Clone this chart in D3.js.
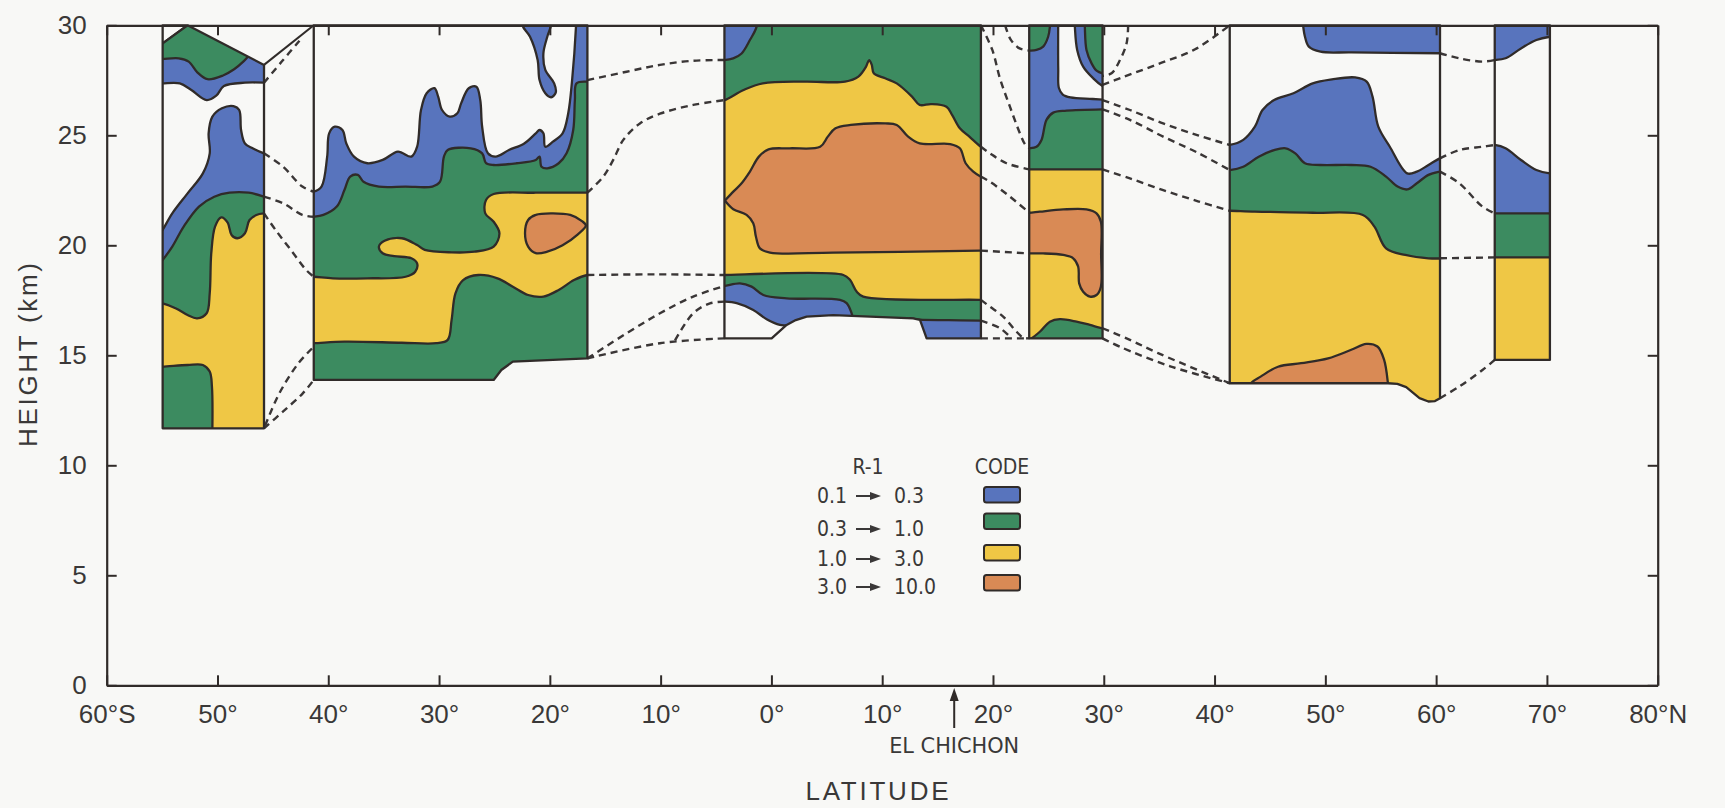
<!DOCTYPE html>
<html>
<head>
<meta charset="utf-8">
<script src="https://cdn.jsdelivr.net/npm/d3@7"></script>
<style>
  html, body { margin: 0; padding: 0; background: #f8f8f6; }
  svg { display: block; }
</style>
</head>
<body>
<svg id="chart" width="1725" height="808"></svg>
<script>
// ---------------------------------------------------------------
// Data: latitude (deg, south negative) and height (km)
// ---------------------------------------------------------------
const latTicks = [-60, -50, -40, -30, -20, -10, 0, 10, 20, 30, 40, 50, 60, 70, 80];
const heightTicks = [0, 5, 10, 15, 20, 25, 30];
const codeRanges = [["0.1", "0.3"], ["0.3", "1.0"], ["1.0", "3.0"], ["3.0", "10.0"]];
const ventLat = 16.5;   // El Chichon

// Observation strips: outline polygons
const outline55S = [[-54.95,30],[-52.7,30],[-45.8,28.2],[-45.8,11.68],[-54.95,11.68]];
const outline30S = [[-41.31,30],[-16.61,30],[-16.61,14.86],[-23.34,14.71],[-24.38,14.33],[-25.07,13.88],[-41.31,13.88]];
const outline7N  = [[-4.24,30],[18.91,30],[18.91,15.77],[14.01,15.77],[13.41,16.61],[12.8,16.68],[5.58,16.83],[3.18,16.76],[2.2,16.6],[1.37,16.38],[0.02,15.77],[-4.24,15.77]];
const outline26N = [[23.27,30],[29.89,30],[29.89,15.77],[23.27,15.77]];
const outline50N = [[41.37,30],[60.35,30],[60.35,13.05],[59.9,12.92],[59.3,12.9],[58.5,13.05],[57.9,13.3],[57.3,13.55],[56.5,13.7],[55.65,13.73],[41.37,13.73]];
const outline68N = [[65.29,30],[70.27,30],[70.27,14.79],[65.29,14.79]];

// Contoured R-1 regions per strip (code 0 = below 0.1, 1..4 = legend classes).
// Each region is a list of runs: smooth curves joined by straight segments.
const regions55S = [
  {code:1, runs:[[[-55.5,28.98],[-52.7,30.0]],[[-52.4,30.6]],[[-45,30.6]],[[-45,27.39]],
    [[-45.8,27.39],[-47.52,27.39],[-49.42,27.24],[-50.11,26.8],[-50.98,26.6],[-52.36,27.06],[-53.4,27.36],[-54.95,27.36],[-55.5,27.36]]]},
  {code:2, runs:[[[-55.5,28.98],[-52.7,30.0]],[[-52.4,30.6]],[[-46.8,30.6]],[[-46.9,28.9]],
    [[-47.2,28.6],[-47.6,28.38],[-48.5,28.0],[-49.5,27.72],[-50.9,27.55],[-51.8,27.85],[-52.6,28.35],[-53.5,28.5],[-54.95,28.47],[-55.5,28.47]]]},
  {code:1, runs:[[[-55.5,20.3],[-54.95,20.7],[-54.08,21.45],[-52.7,22.36],[-51.32,23.27],[-50.7,24.18],[-50.8,25.09],[-50.46,25.85],[-49.6,26.23],[-48.56,26.33],[-48.04,26.15],[-47.87,25.24],[-47.52,24.63],[-46.83,24.41],[-45.8,24.18],[-45.2,24.1]],[[-45.2,11]],[[-55.5,11]]]},
  {code:2, runs:[[[-55.5,19.0],[-54.95,19.33],[-54.08,19.94],[-53.05,20.85],[-51.67,21.76],[-50.29,22.21],[-48.91,22.39],[-47.18,22.39],[-45.8,22.21],[-45.2,22.1]],[[-45.2,11]],[[-55.5,11]]]},
  {code:3, runs:[[[-55.5,17.4],[-54.95,17.36],[-53.74,17.13],[-52.7,16.83],[-51.84,16.68],[-50.98,16.91],[-50.7,17.82],[-50.56,19.64],[-50.22,20.85],[-49.66,21.27],[-49.08,21.03],[-48.73,20.47],[-48.21,20.32],[-47.52,20.55],[-47.11,21.15],[-46.49,21.38],[-45.8,21.45],[-45.2,21.45]],[[-45.2,11]],[[-50.4,11]],
    [[-50.46,11.68],[-50.5,13.57],[-50.7,14.26],[-51.32,14.56],[-52.7,14.56],[-54.95,14.48],[-55.5,14.48]]]}
];

const regions30S = [
  {code:1, runs:[[[-42,22.44],[-41.31,22.44],[-40.61,22.67],[-40.1,24.03],[-39.92,25.09],[-39.41,25.39],[-38.72,25.24],[-38.37,24.63],[-37.68,24.03],[-36.47,23.73],[-35.09,23.88],[-33.71,24.26],[-32.5,24.03],[-31.98,24.48],[-31.63,26.15],[-31.12,26.91],[-30.42,27.14],[-30.08,26.76],[-29.73,26.15],[-29.04,25.85],[-28.35,26.0],[-28.01,26.45],[-27.32,27.14],[-26.63,27.21],[-26.28,26.6],[-26.11,25.39],[-25.59,24.18],[-24.9,24.03],[-23.69,24.33],[-22.31,24.63],[-21.27,25.09],[-20.93,25.24],[-20.58,25.09],[-20.41,24.48],[-19.72,24.71],[-18.85,25.09],[-18.34,26.0],[-17.99,27.51],[-17.64,29.94],[-17.6,30.6]],[[-16,30.6]],[[-16,13]],[[-42,13]]]},
  {code:1, runs:[[[-22.5,30.6],[-22.48,30.0],[-21.79,29.48],[-21.1,28.42],[-20.93,27.51],[-20.41,26.91],[-19.89,26.73],[-19.47,26.94],[-19.61,27.36],[-20.41,27.97],[-20.58,28.73],[-20.23,29.48],[-19.89,30.0],[-19.8,30.6]]]},
  {code:2, runs:[[[-42,21.3],[-41.31,21.3],[-40.44,21.38],[-39.23,21.76],[-38.54,22.51],[-38.02,23.12],[-37.33,23.2],[-36.82,22.89],[-35.43,22.67],[-33.02,22.67],[-30.6,22.67],[-29.91,22.89],[-29.56,24.03],[-29.22,24.33],[-27.14,24.41],[-26.11,24.18],[-25.76,23.73],[-25.07,23.65],[-23.0,23.73],[-21.27,23.88],[-20.93,24.03],[-20.75,23.57],[-20.23,23.5],[-19.2,23.73],[-18.49,24.18],[-17.89,25.24],[-17.74,26.6],[-17.59,27.36],[-16.61,27.44],[-16,27.44]],[[-16,13]],[[-42,13]]]},
  {code:3, runs:[[[-42,18.57],[-41.31,18.57],[-39.58,18.5],[-36.47,18.5],[-33.02,18.57],[-32.15,18.8],[-31.98,19.18],[-32.5,19.41],[-34.05,19.51],[-35.09,19.64],[-35.43,19.94],[-34.92,20.21],[-33.36,20.32],[-31.98,20.01],[-31.29,19.79],[-28.87,19.68],[-26.8,19.71],[-25.07,19.94],[-24.55,20.55],[-25.07,21.07],[-25.83,21.45],[-25.76,22.06],[-25.07,22.33],[-21.27,22.39],[-16.61,22.39],[-16,22.39]],
    [[-16,18.65],[-16.61,18.65],[-17.82,18.42],[-19.2,17.97],[-20.58,17.67],[-21.96,17.74],[-23.34,18.12],[-24.73,18.5],[-26.45,18.65],[-27.83,18.42],[-28.52,17.82],[-28.87,16.6],[-29.22,15.7],[-30.25,15.55],[-33.36,15.57],[-38.54,15.62],[-41.31,15.55],[-42,15.55]]]},
  {code:4, closed:true, runs:[[[-21.96,21.15],[-21.27,21.38],[-19.89,21.45],[-18.16,21.38],[-17.1,21.1],[-16.75,20.9],[-17.47,20.5],[-18.85,20.0],[-20.23,19.71],[-21.27,19.64],[-21.96,19.94],[-22.24,20.55]]]}
];

const regions7N = [
  {code:3, runs:[[[-4.8,26.6],[-4.24,26.6],[-2.51,27.06],[-0.78,27.36],[3.02,27.44],[6.64,27.44],[7.85,27.67],[8.54,28.12],[8.82,28.42],[9.06,28.2],[9.24,27.82],[10.27,27.59],[11.31,27.36],[12.69,26.76],[13.38,26.38],[14.42,26.42],[15.8,26.3],[16.32,25.92],[17.01,25.32],[17.87,24.94],[18.91,24.48],[19.5,24.3]],
    [[19.5,17.5],[18.82,17.52],[8.29,17.67],[7.69,17.9],[7.09,18.43],[6.49,18.65],[-4.28,18.65],[-4.8,18.65]]]},
  {code:4, runs:[[[-4.15,22.06],[-3.44,22.44],[-2.69,22.82],[-1.94,23.35],[-1.13,24.03],[-0.26,24.36],[1.64,24.41],[4.4,24.48],[5.09,24.94],[5.78,25.32],[7.16,25.47],[10.27,25.54],[11.31,25.47],[12.34,24.94],[13.38,24.63],[16.14,24.6],[17.01,24.41],[17.53,23.73],[18.22,23.35],[18.91,23.12],[19.5,23.0]],[[19.5,19.76]],
    [[18.82,19.76],[5.58,19.67],[-0.13,19.67],[-1.04,19.86],[-1.4,20.4],[-1.64,21.0],[-2.24,21.38],[-3.44,21.64],[-4.15,22.0]]]},
  {code:1, runs:[[[-1.3,30.6],[-1.34,29.94],[-1.94,29.33],[-2.69,28.72],[-3.45,28.5],[-4.29,28.42],[-4.8,28.42]],[[-4.8,30.6]]]},
  {code:1, runs:[[[-4.8,18.15],[-4.28,18.15],[-2.84,18.27],[-1.79,18.12],[-0.73,17.74],[1.37,17.59],[6.19,17.52],[6.79,17.37],[7.24,16.91],[7.5,16.4],[7.6,15.5]],[[-4.8,15.5]]]},
  {code:0, runs:[[[-4.8,17.44],[-4.28,17.44],[-3.14,17.37],[-1.64,17.06],[-0.43,16.64],[0.77,16.38],[1.37,16.36],[2.2,16.3]],[[2.2,15.5]],[[-4.8,15.5]]]},
  {code:1, runs:[[[12.5,16.69],[13.41,16.62],[16,16.6],[18.82,16.58],[19.5,16.58]],[[19.5,15.3]],[[12.5,15.3]]]}
];

const regions26N = [
  {code:1, runs:[[[30.5,26.18],[29.89,26.18],[26.64,26.12],[25.44,26.03],[24.83,25.7],[24.38,24.79],[23.93,24.48],[23.27,24.41],[22.7,24.41]],[[22.7,30.6]],[[30.5,30.6]]]},
  {code:0, runs:[[[25.89,30.6],[25.89,28.0],[25.95,27.15],[26.3,26.85],[27.0,26.72],[29.0,26.65],[30.5,26.6]],[[30.5,30.6]]]},
  {code:1, runs:[[[27.35,30.6],[27.39,29.94],[27.6,28.88],[28.14,28.12],[29.05,27.59],[29.89,27.24],[30.5,27.1]],[[30.5,30.6]]]},
  {code:2, runs:[[[28.25,30.6],[28.29,29.94],[28.44,28.88],[28.9,28.27],[29.35,27.94],[29.89,27.82],[30.5,27.8]],[[30.5,30.6]]]},
  {code:2, runs:[[[25.2,30.6],[25.14,29.94],[24.98,29.48],[24.53,29.03],[23.93,28.88],[23.27,28.85],[22.7,28.85]],[[22.7,30.6]]]},
  {code:3, runs:[[[22.7,23.45],[30.5,23.45]],[[30.5,16.2],[29.89,16.23],[28.75,16.38],[27.54,16.53],[26.04,16.64],[25.14,16.53],[24.23,16.07],[23.4,15.75],[22.7,15.6]]]},
  {code:4, runs:[[[22.7,21.48],[23.27,21.48],[24.23,21.53],[26.34,21.63],[28.44,21.63],[29.35,21.45],[29.74,21.07],[29.76,19.6],[29.74,18.12],[29.35,17.74],[28.75,17.67],[28.14,17.89],[27.78,18.27],[27.69,19.03],[27.24,19.41],[26.34,19.56],[24.53,19.63],[23.27,19.63],[22.7,19.63]]]}
];

const regions50N = [
  {code:1, runs:[[[47.9,30.6],[47.99,30.0],[48.16,29.48],[48.51,29.03],[49.56,28.8],[52.34,28.77],[60.35,28.73],[61,28.73]],[[61,30.6]]]},
  {code:1, runs:[[[40.8,24.56],[41.37,24.56],[42.59,24.79],[43.64,25.39],[44.33,26.15],[45.38,26.6],[47.12,26.91],[48.86,27.36],[50.6,27.54],[52.69,27.63],[53.73,27.44],[54.26,26.76],[54.78,25.39],[55.82,24.48],[57.39,23.27],[58.26,23.35],[59.31,23.65],[60.35,23.95],[61,24.0]],[[61,12]],[[40.8,12]]]},
  {code:2, runs:[[[40.8,23.42],[41.37,23.42],[42.59,23.57],[43.99,24.03],[45.38,24.33],[46.42,24.41],[47.29,24.18],[48.16,23.73],[49.56,23.65],[52.34,23.65],[54.08,23.57],[55.48,23.12],[56.52,22.67],[57.39,22.54],[58.26,22.82],[59.31,23.2],[60.35,23.35],[61,23.4]],[[61,12]],[[40.8,12]]]},
  {code:3, runs:[[[40.8,21.57],[41.37,21.57],[43.64,21.53],[48.86,21.48],[53.39,21.38],[54.43,20.85],[55.48,19.86],[57.22,19.56],[59.31,19.41],[61,19.41]],[[61,12]],[[40.8,12]]]},
  {code:4, runs:[[[43.1,13.4],[43.29,13.73],[44.16,14.03],[45.73,14.48],[47.82,14.64],[50.25,14.86],[52.34,15.25],[53.7,15.52],[54.7,15.4],[55.3,14.8],[55.65,13.73],[55.7,13.4]]]}
];

const regions68N = [
  {code:1, runs:[[[64.7,28.42],[65.29,28.42],[66.27,28.5],[67.66,28.95],[69.05,29.33],[70.27,29.48],[70.8,29.5]],[[70.8,30.6]],[[64.7,30.6]]]},
  {code:1, runs:[[[64.7,24.56],[65.29,24.56],[66.27,24.41],[67.66,23.88],[69.05,23.42],[70.27,23.27],[70.8,23.27]],[[70.8,14]],[[64.7,14]]]},
  {code:2, runs:[[[64.7,21.45],[70.8,21.45]],[[70.8,14]],[[64.7,14]]]},
  {code:3, runs:[[[64.7,19.45],[70.8,19.45]],[[70.8,14]],[[64.7,14]]]}
];

// Interpolated contour links between strips (dashed)
const links = [
  [[-45.8,27.39],[-44.2,28.35],[-42.6,29.3]],
  [[-45.8,24.18],[-44.07,23.57],[-42.34,22.67],[-41.31,22.44]],
  [[-45.8,22.21],[-44.07,21.91],[-42.34,21.38],[-41.31,21.3]],
  [[-45.8,21.45],[-44.76,20.7],[-43.38,19.79],[-42.0,18.88],[-41.31,18.57]],
  [[-45.8,11.68],[-44.07,12.45],[-42.34,13.25],[-41.31,13.88]],
  [[-45.7,11.8],[-44.42,13.27],[-42.69,14.64],[-41.31,15.39]],
  [[-16.61,27.51],[-13.07,27.89],[-10.06,28.2],[-7.06,28.39],[-4.24,28.42]],
  [[-16.61,22.39],[-15.18,23.12],[-14.28,23.88],[-13.37,24.79],[-11.87,25.54],[-10.06,25.98],[-7.06,26.38],[-4.24,26.6]],
  [[-16.61,18.65],[-10.5,18.68],[-4.24,18.65]],
  [[-16.61,14.86],[-13.07,16.0],[-10.06,16.91],[-7.06,17.67],[-4.24,18.15]],
  [[-16.61,14.86],[-10.06,15.55],[-4.24,15.77]],
  [[-8.7,15.68],[-7.06,16.91],[-5.55,17.36],[-4.24,17.44]],
  [[18.91,30],[19.94,28.88],[20.62,27.6],[21.53,26.3],[22.43,25.09],[22.88,24.6],[23.27,24.41]],
  [[21.1,30],[21.6,29.35],[22.4,28.95],[23.27,28.85]],
  [[18.91,24.48],[19.72,24.18],[21.22,23.73],[23.27,23.45]],
  [[18.91,23.12],[19.72,22.89],[21.53,22.21],[23.27,21.48]],
  [[18.91,19.76],[23.27,19.63]],
  [[18.91,17.52],[19.72,17.21],[20.92,16.76],[22.13,16.07],[22.73,15.8],[23.27,15.77]],
  [[18.91,16.58],[20.64,16.23],[21.67,15.77]],
  [[18.91,15.77],[23.27,15.77]],
  [[32.2,30],[32.06,29.18],[31.46,28.42],[30.7,27.82],[29.89,27.7]],
  [[29.89,27.29],[31.6,27.62],[34.8,28.22],[38.2,28.9],[41.37,30]],
  [[29.89,26.6],[32.36,26.15],[35.36,25.54],[38.5,25.0],[41.37,24.56]],
  [[29.89,26.18],[32.36,25.7],[35.36,24.94],[38.5,24.2],[41.37,23.42]],
  [[29.89,23.45],[32.36,23.04],[35.36,22.51],[38.5,22.0],[41.37,21.57]],
  [[29.89,16.23],[32.36,15.7],[34.9,15.1],[41.37,13.73]],
  [[29.89,15.77],[31.45,15.39],[36.0,14.5],[41.37,13.73]],
  [[60.35,28.73],[62.09,28.5],[64.18,28.35],[65.29,28.42]],
  [[60.35,23.95],[62.09,24.33],[64.18,24.48],[65.29,24.56]],
  [[60.35,23.35],[62.09,22.82],[64.18,21.76],[65.29,21.45]],
  [[60.35,19.41],[65.29,19.45]],
  [[60.35,13.05],[62.09,13.58],[64.18,14.33],[65.29,14.79]]
];
const solidLinks = [
  [[-45.8,28.2],[-41.31,30]]
];

// ---------------------------------------------------------------
// Styles and layout
// ---------------------------------------------------------------
const W = 1725, H = 808;
const BG = "#f8f8f6", INK = "#302b29";
const codeFill = {0: BG, 1: "#5874bd", 2: "#3c8b60", 3: "#efc745", 4: "#d98a55"};
const sansFont = "'Liberation Sans', Arial, Helvetica, sans-serif";
const narrowFont = "'DejaVu Sans Condensed', 'Liberation Sans Narrow', 'DejaVu Sans', sans-serif";

const strips = [
  {outline: outline55S, base: 0, regions: regions55S},
  {outline: outline30S, base: 0, regions: regions30S},
  {outline: outline7N,  base: 2, regions: regions7N},
  {outline: outline26N, base: 2, regions: regions26N},
  {outline: outline50N, base: 0, regions: regions50N},
  {outline: outline68N, base: 0, regions: regions68N}
];

const x = d3.scaleLinear().domain([-60, 80]).range([106.7, 1657.7]);
const y = d3.scaleLinear().domain([0, 30]).range([685.3, 25.3]);

const svg = d3.select("#chart");
svg.append("rect").attr("width", W).attr("height", H).attr("fill", BG);

const smooth = d3.line().x(d => x(d[0])).y(d => y(d[1])).curve(d3.curveCatmullRom.alpha(0.5));
const smoothClosed = d3.line().x(d => x(d[0])).y(d => y(d[1])).curve(d3.curveCatmullRomClosed.alpha(0.5));
const poly = d3.line().x(d => x(d[0])).y(d => y(d[1])).curve(d3.curveLinearClosed);

// Smooth runs joined by straight segments, closed with a straight edge
function regionPath(r) {
  if (r.closed) return smoothClosed(r.runs[0]);
  let d = "";
  r.runs.forEach(run => {
    if (run.length === 1) d += "L" + x(run[0][0]) + "," + y(run[0][1]);
    else d += "L" + smooth(run).slice(1);
  });
  return "M" + d.slice(1) + "Z";
}

const defs = svg.append("defs");
strips.forEach((s, i) => {
  defs.append("clipPath").attr("id", "strip" + i).append("path").attr("d", poly(s.outline));
  const g = svg.append("g").attr("clip-path", `url(#strip${i})`);
  g.append("path").attr("d", poly(s.outline)).attr("fill", codeFill[s.base]);
  g.selectAll("path.band").data(s.regions).join("path")
    .attr("class", "band")
    .attr("d", regionPath)
    .attr("fill", d => codeFill[d.code])
    .attr("stroke", INK).attr("stroke-width", 2.3).attr("stroke-linejoin", "round");
});

// dashed links
svg.append("g").selectAll("path").data(links).join("path")
  .attr("d", d => smooth(d)).attr("fill", "none")
  .attr("stroke", "#3a3636").attr("stroke-width", 2.4).attr("stroke-dasharray", "7,5");
svg.append("g").selectAll("path").data(solidLinks).join("path")
  .attr("d", d => smooth(d)).attr("fill", "none")
  .attr("stroke", INK).attr("stroke-width", 2);

// strip outlines
svg.append("g").selectAll("path").data(strips).join("path")
  .attr("d", d => poly(d.outline)).attr("fill", "none")
  .attr("stroke", INK).attr("stroke-width", 2.3).attr("stroke-linejoin", "round");

// ---------------------------------------------------------------
// Axes: inward ticks on all four sides
// ---------------------------------------------------------------
const fmtLat = v => v === -60 ? "60°S" : v === 80 ? "80°N" : Math.abs(v) + "°";
function styleAxis(g) {
  g.attr("font-family", sansFont).attr("font-size", 26);
  g.selectAll(".domain").attr("stroke", INK).attr("stroke-width", 2.2);
  g.selectAll(".tick line").attr("stroke", INK).attr("stroke-width", 2);
  g.selectAll(".tick text").attr("fill", "#3a3838");
}
svg.append("g").attr("transform", `translate(0,${y(0)})`)
  .call(d3.axisBottom(x).tickValues(latTicks).tickSizeInner(-10).tickSizeOuter(0).tickPadding(19).tickFormat(fmtLat))
  .call(styleAxis);
svg.append("g").attr("transform", `translate(0,${y(30)})`)
  .call(d3.axisTop(x).tickValues(latTicks).tickSizeInner(-10).tickSizeOuter(0).tickFormat(""))
  .call(styleAxis);
svg.append("g").attr("transform", `translate(${x(-60)},0)`)
  .call(d3.axisLeft(y).tickValues(heightTicks).tickSizeInner(-10).tickSizeOuter(0).tickPadding(20))
  .call(styleAxis);
svg.append("g").attr("transform", `translate(${x(80)},0)`)
  .call(d3.axisRight(y).tickValues(heightTicks).tickSizeInner(-10).tickSizeOuter(0).tickFormat(""))
  .call(styleAxis);

// axis titles
svg.append("text")
  .attr("transform", "translate(37,355) rotate(-90)")
  .attr("text-anchor", "middle").attr("font-family", sansFont).attr("font-size", 26)
  .attr("fill", "#3a3838").attr("textLength", 184).attr("lengthAdjust", "spacing")
  .text("HEIGHT (km)");
svg.append("text")
  .attr("x", 877).attr("y", 800)
  .attr("text-anchor", "middle").attr("font-family", sansFont).attr("font-size", 26)
  .attr("fill", "#3a3838").attr("textLength", 143).attr("lengthAdjust", "spacing")
  .text("LATITUDE");

// El Chichon marker
const vx = x(ventLat);
svg.append("line").attr("x1", vx).attr("x2", vx).attr("y1", 728).attr("y2", 698)
  .attr("stroke", INK).attr("stroke-width", 2);
svg.append("path")
  .attr("d", `M${vx},${688}L${vx - 4.5},${701}L${vx + 4.5},${701}Z`).attr("fill", INK);
svg.append("text").attr("x", vx).attr("y", 753).attr("text-anchor", "middle")
  .attr("font-family", narrowFont).attr("font-size", 21).attr("fill", "#3a3838")
  .attr("textLength", 130).attr("lengthAdjust", "spacingAndGlyphs")
  .text("EL CHICHON");

// ---------------------------------------------------------------
// Legend
// ---------------------------------------------------------------
const lg = svg.append("g").attr("font-family", narrowFont).attr("font-size", 21).attr("fill", "#3a3838");
lg.append("text").attr("x", 868).attr("y", 474).attr("text-anchor", "middle").text("R-1");
lg.append("text").attr("x", 1002).attr("y", 474).attr("text-anchor", "middle").text("CODE");
const rowBase = [503, 536, 566, 594];
const swatchTop = [487, 513.5, 545, 575];
codeRanges.forEach((r, i) => {
  const by = rowBase[i];
  lg.append("text").attr("x", 847).attr("y", by).attr("text-anchor", "end").text(r[0]);
  lg.append("line").attr("x1", 856).attr("x2", 872).attr("y1", by - 7).attr("y2", by - 7)
    .attr("stroke", "#3a3838").attr("stroke-width", 2);
  lg.append("path").attr("d", `M881,${by - 7}L870,${by - 11}L870,${by - 3}Z`).attr("fill", "#3a3838");
  lg.append("text").attr("x", 894).attr("y", by).attr("text-anchor", "start").text(r[1]);
  lg.append("rect").attr("x", 984).attr("y", swatchTop[i]).attr("width", 36).attr("height", 15.5)
    .attr("rx", 2.5).attr("fill", codeFill[i + 1]).attr("stroke", INK).attr("stroke-width", 2);
});
</script>
</body>
</html>
